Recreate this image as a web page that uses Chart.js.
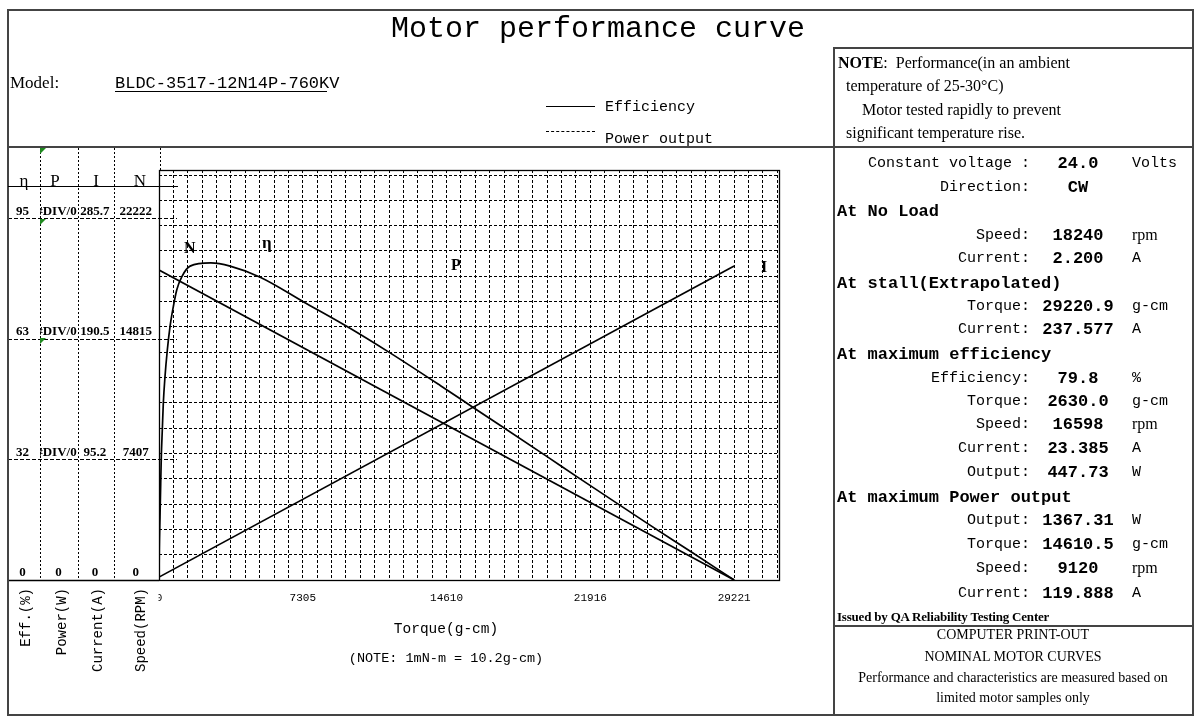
<!DOCTYPE html>
<html><head><meta charset="utf-8">
<script src="https://cdn.jsdelivr.net/npm/chart.js@4.4.1/dist/chart.umd.min.js"></script>
<style>
html,body{margin:0;padding:0;background:#fff;}
#wrap{position:relative;width:1200px;height:720px;overflow:hidden;background:#fff;}
#c{position:absolute;left:0;top:0;}
.t{position:absolute;white-space:nowrap;color:#000;line-height:1;}
.mono{font-family:"Liberation Mono","DejaVu Sans Mono",monospace;}
.serif{font-family:"Liberation Serif","DejaVu Serif",serif;}
.b{font-weight:bold;}
.hl{position:absolute;height:0;border-top:2px solid #444;}
.vl{position:absolute;width:0;border-left:2px solid #444;}
.lab{position:absolute;right:170px;font-size:15px;}
.val{position:absolute;left:1028px;width:100px;text-align:center;font-size:17px;font-weight:bold;}
.unit{position:absolute;left:1132px;font-size:15px;}
.head{position:absolute;left:837px;font-size:17px;font-weight:bold;}
.rot{position:absolute;top:588px;transform-origin:0 0;transform:rotate(-90deg) translate(-100%,-50%);font-size:14px;}
.tri{position:absolute;width:0;height:0;border-top:6px solid #1f8a1f;border-right:6px solid transparent;}
</style></head>
<body><div id="wrap">
<canvas id="c" width="1200" height="720"></canvas>

<!-- frame lines -->
<div class="hl" style="left:8px;top:9px;width:1186px;"></div>
<div class="hl" style="left:8px;top:714px;width:1186px;"></div>
<div class="vl" style="left:7px;top:9px;height:707px;"></div>
<div class="vl" style="left:1192px;top:9px;height:707px;"></div>
<div class="hl" style="left:834px;top:47px;width:360px;"></div>
<div class="vl" style="left:833px;top:47px;height:669px;"></div>
<div class="hl" style="left:8px;top:146px;width:1186px;"></div>
<div class="hl" style="left:834px;top:625px;width:360px;"></div>
<div class="hl" style="left:8px;top:186px;width:170px;border-top-width:1px;border-color:#000;"></div>
<div class="hl" style="left:115px;top:91px;width:212px;border-top-width:1px;border-color:#000;"></div>

<!-- title & model -->
<div class="t mono" style="left:0;width:1196px;text-align:center;top:14px;font-size:30px;">Motor performance curve</div>
<div class="t serif" style="left:10px;top:74px;font-size:17px;">Model:</div>
<div class="t mono" style="left:115px;top:75px;font-size:17px;">BLDC-3517-12N14P-760KV</div>

<!-- legend -->
<div class="hl" style="left:546px;top:106px;width:49px;border-top-width:1px;border-color:#000;"></div>
<div class="t mono" style="left:605px;top:100px;font-size:15px;">Efficiency</div>
<div class="hl" style="left:546px;top:131px;width:49px;border-top:1px dashed #000;"></div>
<div class="t mono" style="left:605px;top:132px;font-size:15px;">Power output</div>

<!-- note -->
<div class="t serif" style="left:838px;top:55px;font-size:16px;"><b>NOTE</b>:&nbsp; Performance(in an ambient</div>
<div class="t serif" style="left:846px;top:78px;font-size:16px;">temperature of 25-30°C)</div>
<div class="t serif" style="left:862px;top:102px;font-size:16px;">Motor tested rapidly to prevent</div>
<div class="t serif" style="left:846px;top:125px;font-size:16px;">significant temperature rise.</div>

<!-- spec panel -->
<div class="t mono lab" style="top:156px;">Constant voltage :</div><div class="t mono val" style="top:155px;">24.0</div><div class="t mono unit" style="top:156px;">Volts</div>
<div class="t mono lab" style="top:180px;">Direction:</div><div class="t mono val" style="top:179px;">CW</div>
<div class="t mono head" style="top:203px;">At No Load</div>
<div class="t mono lab" style="top:228px;">Speed:</div><div class="t mono val" style="top:227px;">18240</div><div class="t serif unit" style="top:227px;font-size:16px;">rpm</div>
<div class="t mono lab" style="top:251px;">Current:</div><div class="t mono val" style="top:250px;">2.200</div><div class="t mono unit" style="top:251px;">A</div>
<div class="t mono head" style="top:275px;">At stall(Extrapolated)</div>
<div class="t mono lab" style="top:299px;">Torque:</div><div class="t mono val" style="top:298px;">29220.9</div><div class="t mono unit" style="top:299px;">g-cm</div>
<div class="t mono lab" style="top:322px;">Current:</div><div class="t mono val" style="top:321px;">237.577</div><div class="t mono unit" style="top:322px;">A</div>
<div class="t mono head" style="top:346px;">At maximum efficiency</div>
<div class="t mono lab" style="top:371px;">Efficiency:</div><div class="t mono val" style="top:370px;">79.8</div><div class="t mono unit" style="top:371px;">%</div>
<div class="t mono lab" style="top:394px;">Torque:</div><div class="t mono val" style="top:393px;">2630.0</div><div class="t mono unit" style="top:394px;">g-cm</div>
<div class="t mono lab" style="top:417px;">Speed:</div><div class="t mono val" style="top:416px;">16598</div><div class="t serif unit" style="top:416px;font-size:16px;">rpm</div>
<div class="t mono lab" style="top:441px;">Current:</div><div class="t mono val" style="top:440px;">23.385</div><div class="t mono unit" style="top:441px;">A</div>
<div class="t mono lab" style="top:465px;">Output:</div><div class="t mono val" style="top:464px;">447.73</div><div class="t mono unit" style="top:465px;">W</div>
<div class="t mono head" style="top:489px;">At maximum Power output</div>
<div class="t mono lab" style="top:513px;">Output:</div><div class="t mono val" style="top:512px;">1367.31</div><div class="t mono unit" style="top:513px;">W</div>
<div class="t mono lab" style="top:537px;">Torque:</div><div class="t mono val" style="top:536px;">14610.5</div><div class="t mono unit" style="top:537px;">g-cm</div>
<div class="t mono lab" style="top:561px;">Speed:</div><div class="t mono val" style="top:560px;">9120</div><div class="t serif unit" style="top:560px;font-size:16px;">rpm</div>
<div class="t mono lab" style="top:586px;">Current:</div><div class="t mono val" style="top:585px;">119.888</div><div class="t mono unit" style="top:586px;">A</div>
<div class="t serif b" style="left:837px;top:610px;font-size:13px;letter-spacing:-0.2px;">Issued by QA Reliability Testing Center</div>
<div class="t serif" style="left:834px;width:358px;text-align:center;top:628px;font-size:14px;">COMPUTER PRINT-OUT</div>
<div class="t serif" style="left:834px;width:358px;text-align:center;top:650px;font-size:14px;">NOMINAL MOTOR CURVES</div>
<div class="t serif" style="left:834px;width:358px;text-align:center;top:671px;font-size:14px;">Performance and characteristics are measured based on</div>
<div class="t serif" style="left:834px;width:358px;text-align:center;top:691px;font-size:14px;">limited motor samples only</div>

<!-- left panel headers -->
<div class="t serif" style="left:8px;width:32px;text-align:center;top:172px;font-size:17px;">η</div>
<div class="t serif" style="left:40px;width:30px;text-align:center;top:172px;font-size:17px;">P</div>
<div class="t serif" style="left:78px;width:36px;text-align:center;top:172px;font-size:17px;">I</div>
<div class="t serif" style="left:114px;width:52px;text-align:center;top:172px;font-size:17px;">N</div>
<div class="t mono rot" style="left:26px;">Eff.(%)</div>
<div class="t mono rot" style="left:62px;">Power(W)</div>
<div class="t mono rot" style="left:98px;">Current(A)</div>
<div class="t mono rot" style="left:141px;">Speed(RPM)</div>
<div class="tri" style="left:40px;top:148px;"></div>
<div class="tri" style="left:40px;top:219px;"></div>
<div class="tri" style="left:40px;top:338px;"></div>

<!-- curve labels & axis title -->
<div class="t serif b" style="left:184px;top:240px;font-size:16px;">N</div>
<div class="t serif b" style="left:262px;top:234px;font-size:17px;">η</div>
<div class="t serif b" style="left:451px;top:257px;font-size:16px;">P</div>
<div class="t serif b" style="left:761px;top:259px;font-size:16px;">I</div>
<div class="t mono" style="left:296px;width:300px;text-align:center;top:622px;font-size:14.5px;">Torque(g-cm)</div>
<div class="t mono" style="left:296px;width:300px;text-align:center;top:652px;font-size:13.5px;">(NOTE: 1mN-m = 10.2g-cm)</div>
</div>

<script>
// ---------- data ----------
const effTorque  = [0, 15, 51, 87, 117, 168, 219, 305, 423, 560, 728, 901, 1156, 1578, 2630, 3614, 5142, 7346, 9555, 11759, 14305, 16000, 19737, 21264, 24828, 27032, 29221];
const efficiency = [0, 7.6, 15.9, 24.3, 31.0, 37.8, 44.5, 51.2, 57.9, 63.8, 68.8, 73.0, 76.3, 79.0, 79.8, 79.0, 76.2, 70.0, 63.8, 57.1, 48.9, 43.3, 31.0, 25.9, 14.2, 7.1, 0];
const speedTorque = [0, 29221];
const speedRpm    = [18240, 0];
const currentTorque = [0, 29221];
const currentAmp    = [2.2, 237.577];

// tick labels
const xTickLabels   = ['0', '7305', '14610', '21916', '29221'];
const effTickValues = [0, 31.67, 63.33, 95];
const effTickLabels = ['0', '32', '63', '95'];
const powTickValues = [0, 1, 2, 3];
const powTickLabels = ['0', '#DIV/0!', '#DIV/0!', '#DIV/0!'];
const curTickValues = [0, 95.23, 190.47, 285.7];
const curTickLabels = ['0', '95.2', '190.5', '285.7'];
const spdTickValues = [0, 7407, 14815, 22222];
const spdTickLabels = ['0', '7407', '14815', '22222'];

// ---------- chart ----------
const xGridStep = 29221 / 40;
const labelFont = {family: 'Liberation Serif', size: 13, weight: 'bold'};

function labelAxis(weight, width, max, values, labels, pad) {
  return {
    type: 'linear', position: 'left', weight: weight, min: 0, max: max,
    afterFit(s) { s.width = width; },
    afterBuildTicks(s) { s.ticks = values.map(v => ({value: v})); },
    grid: {display: false, drawOnChartArea: false, drawTicks: false},
    border: {display: false},
    ticks: {autoSkip: false, callback: (v, i) => labels[i], font: labelFont, color: '#000',
            crossAlign: 'center', padding: pad, labelOffset: -7}
  };
}

function clipScaleLabels(scale, left, right) {
  if (!scale || scale._clipWrapped) return;
  const orig = scale.drawLabels.bind(scale);
  scale.drawLabels = function (area) {
    const ctx = this.ctx;
    ctx.save();
    ctx.beginPath();
    ctx.rect(left(this), 0, right(this) - left(this), this.chart.height);
    ctx.clip();
    orig(area);
    ctx.restore();
  };
  scale._clipWrapped = true;
}

const decor = {
  id: 'decor',
  afterUpdate(chart) {
    clipScaleLabels(chart.scales.yPowL, s => s.left, s => s.right);
    clipScaleLabels(chart.scales.x, s => s.left - 0.5, s => s.right + 30);
  },
  afterDraw(chart) {
    const ctx = chart.ctx, a = chart.chartArea;
    const panelLeft = chart.options.layout.padding.left;
    ctx.save();
    // plot frame
    ctx.setLineDash([]);
    ctx.strokeStyle = '#000';
    ctx.lineWidth = 1.3;
    ctx.strokeRect(Math.round(a.left) + 0.5, Math.round(a.top) + 0.5, Math.round(a.right - a.left), Math.round(a.bottom - a.top));
    // bottom line of label columns
    ctx.beginPath();
    ctx.moveTo(panelLeft, Math.round(a.bottom) + 0.5);
    ctx.lineTo(a.left, Math.round(a.bottom) + 0.5);
    ctx.stroke();
    // dashed reference lines at the label ticks
    const sE = chart.scales.yEffL;
    ctx.lineWidth = 1;
    ctx.setLineDash([4, 2]);
    effTickValues.forEach((v, i) => {
      if (i === 0) return;
      const y = Math.round(sE.getPixelForValue(v)) + 0.5;
      ctx.beginPath(); ctx.moveTo(panelLeft, y); ctx.lineTo(a.left + 18, y); ctx.stroke();
    });
    // dotted column separators
    ctx.setLineDash([2, 2]);
    ['yEffL', 'yPowL', 'yCurL'].forEach(id => {
      const x = Math.round(chart.scales[id].right) + 0.5;
      ctx.beginPath(); ctx.moveTo(x, 148); ctx.lineTo(x, a.bottom); ctx.stroke();
    });
    const xl = Math.round(a.left) + 1.5;
    ctx.beginPath(); ctx.moveTo(xl, 148); ctx.lineTo(xl, a.top); ctx.stroke();
    ctx.restore();
  }
};

const pts = (xs, ys) => xs.map((x, i) => ({x: x, y: ys[i]}));

new Chart(document.getElementById('c'), {
  type: 'line',
  data: {
    datasets: [
      {label: 'Efficiency', data: pts(effTorque, efficiency), yAxisID: 'yEff',
       borderColor: '#000', borderWidth: 1.7, pointRadius: 0, cubicInterpolationMode: 'monotone', fill: false},
      {label: 'Speed', data: pts(speedTorque, speedRpm), yAxisID: 'ySpd',
       borderColor: '#000', borderWidth: 1.7, pointRadius: 0, tension: 0, fill: false},
      {label: 'Current', data: pts(currentTorque, currentAmp), yAxisID: 'yCur',
       borderColor: '#000', borderWidth: 1.7, pointRadius: 0, tension: 0, fill: false}
    ]
  },
  options: {
    responsive: false,
    animation: false,
    events: [],
    layout: {padding: {left: 8, top: 170, right: 421, bottom: 110}},
    plugins: {legend: {display: false}, tooltip: {enabled: false}},
    scales: {
      x: {
        type: 'linear', min: 0, max: 31500,
        afterFit(s) { s.height = 30; },
        afterBuildTicks(s) {
          const t = [];
          for (let k = 0; k * xGridStep <= 31500; k++) t.push({value: k * xGridStep});
          s.ticks = t;
        },
        ticks: {autoSkip: false, maxRotation: 0, padding: 11, color: '#000',
                font: {family: 'Liberation Mono', size: 11},
                callback: (v, i) => (i % 10 === 0 ? xTickLabels[i / 10] : '')},
        grid: {color: '#000', lineWidth: 1, drawTicks: false},
        border: {display: true, color: '#000', width: 1, dash: [3, 2]}
      },
      yGrid: {
        type: 'linear', position: 'right', min: 0, max: 16.2,
        afterFit(s) { s.width = 0; },
        afterBuildTicks(s) { const t = []; for (let k = 0; k <= 16; k++) t.push({value: k}); s.ticks = t; },
        ticks: {display: false},
        grid: {color: '#000', lineWidth: 1, drawTicks: false},
        border: {display: false, dash: [3, 2]}
      },
      yEff: {type: 'linear', display: false, min: 0, max: 103.2},
      ySpd: {type: 'linear', display: false, min: 0, max: 24124},
      yCur: {type: 'linear', display: false, min: 0, max: 310.2},
      yEffL: labelAxis(4, 32, 107.7, effTickValues, effTickLabels, 11),
      yPowL: labelAxis(3, 38, 3.4, powTickValues, powTickLabels, -3),
      yCurL: labelAxis(2, 36, 323.9, curTickValues, curTickLabels, 4.5),
      ySpdL: labelAxis(1, 45, 25190, spdTickValues, spdTickLabels, 7)
    }
  },
  plugins: [decor]
});
</script>
</body></html>
